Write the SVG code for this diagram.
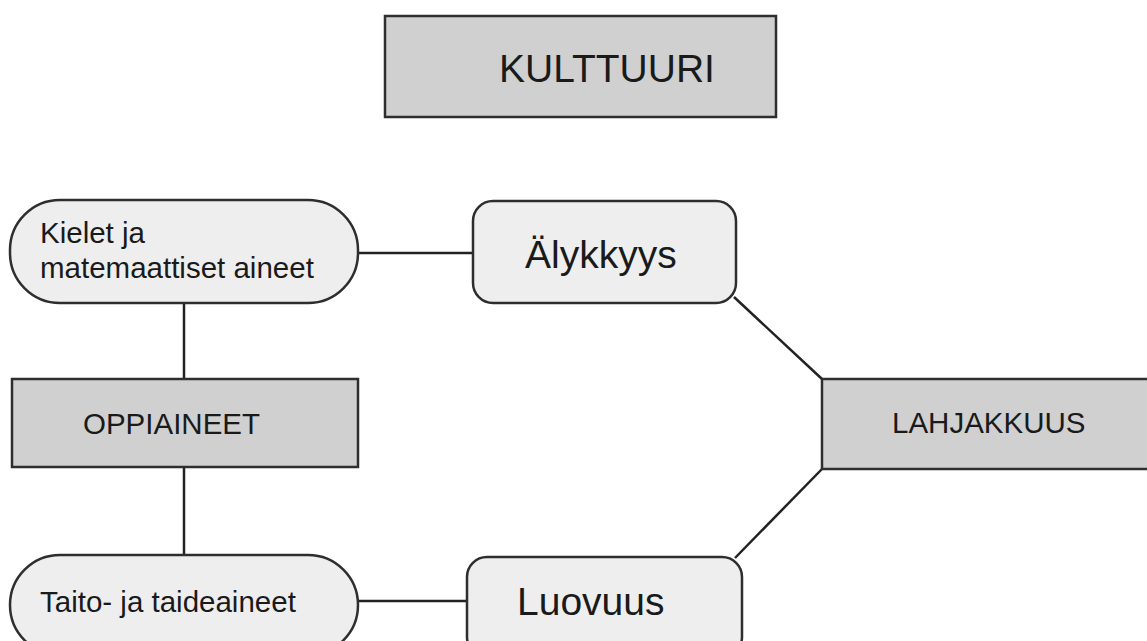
<svg xmlns="http://www.w3.org/2000/svg" width="1147" height="641" viewBox="0 0 1147 641">
<style>
.dark{fill:#d0d0d0;stroke:#2e2e2e;stroke-width:2.5}
.light{fill:#eeeeee;stroke:#2e2e2e;stroke-width:2.5}
.big{font-family:"Liberation Sans",Arial,sans-serif;font-size:39px;fill:#1a1a1a}
.small{font-family:"Liberation Sans",Arial,sans-serif;font-size:29.5px;fill:#1a1a1a}
.conn line{stroke:#222;stroke-width:2.5;fill:none}
</style>
<rect width="1147" height="641" fill="#ffffff"/>
<g id="connectors" class="conn">
<line x1="358" y1="253" x2="473" y2="253"/>
<line x1="184" y1="303" x2="184" y2="379"/>
<line x1="184" y1="467" x2="184" y2="555"/>
<line x1="358" y1="601" x2="467" y2="601"/>
<line x1="734" y1="297" x2="822" y2="379"/>
<line x1="735" y1="558" x2="822" y2="469"/>
</g>
<g id="kulttuuri">
<rect class="dark" x="385" y="16" width="391" height="101"/>
<text class="big" x="499" y="82">KULTTUURI</text>
</g>
<g id="kielet">
<rect class="light" x="10" y="200" width="348" height="103" rx="50" ry="50"/>
<text class="small" x="40" y="243">Kielet ja</text>
<text class="small" x="40" y="278">matemaattiset aineet</text>
</g>
<g id="alykkyys">
<rect class="light" x="473" y="201" width="263" height="102" rx="20" ry="20"/>
<text class="big" x="525" y="268">Älykkyys</text>
</g>
<g id="oppiaineet">
<rect class="dark" x="12" y="379" width="346" height="88"/>
<text class="small" x="83" y="434">OPPIAINEET</text>
</g>
<g id="lahjakkuus">
<rect class="dark" x="822" y="379" width="340" height="90"/>
<text class="small" x="892" y="433">LAHJAKKUUS</text>
</g>
<g id="taito">
<rect class="light" x="10" y="555" width="348" height="100" rx="50" ry="50"/>
<text class="small" x="40" y="612">Taito- ja taideaineet</text>
</g>
<g id="luovuus">
<rect class="light" x="467" y="557" width="275" height="100" rx="20" ry="20"/>
<text class="big" x="517" y="615">Luovuus</text>
</g>
</svg>
